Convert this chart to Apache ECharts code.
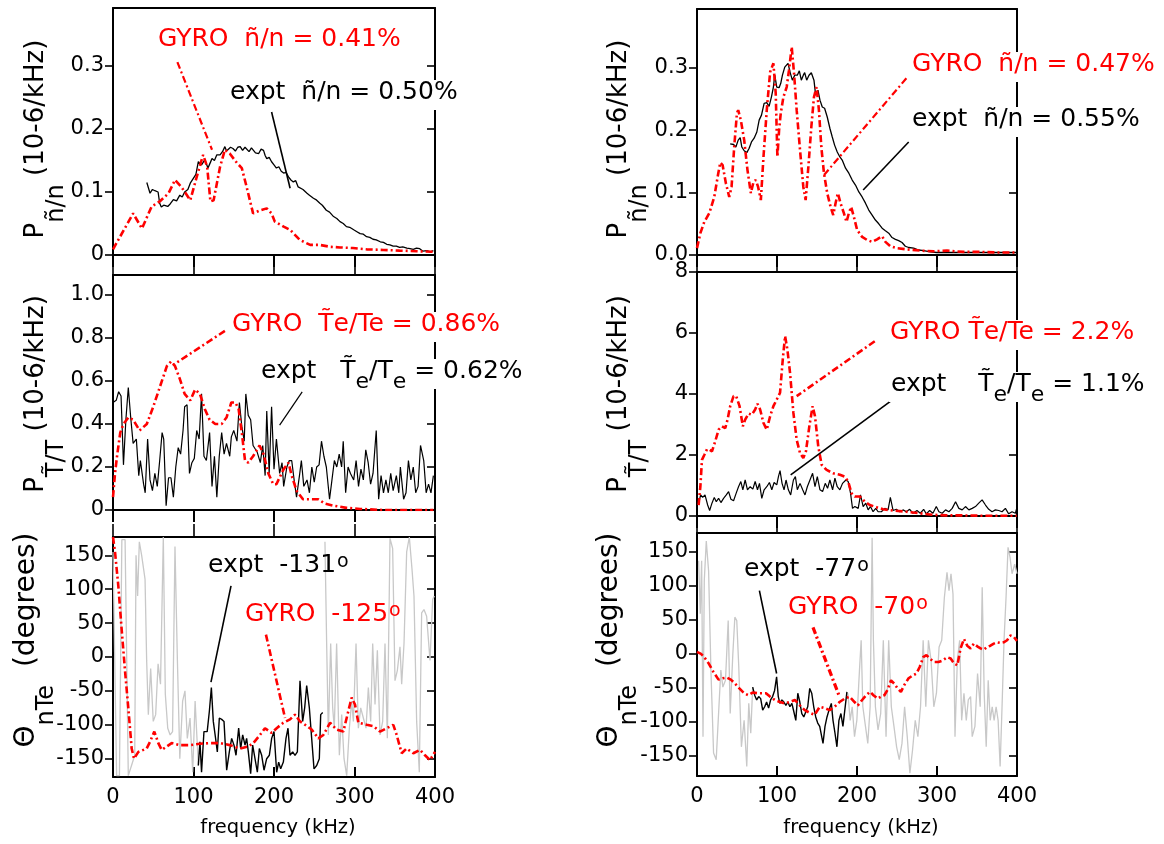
<!DOCTYPE html>
<html>
<head>
<meta charset="utf-8">
<script src="https://cdn.jsdelivr.net/npm/echarts@6/dist/echarts.min.js"></script>
<style>
  html, body { margin: 0; padding: 0; background: #fff; }
  #chart { width: 1164px; height: 844px; }
</style>
</head>
<body>
<div id="chart"></div>
<script>
// ---- data: [frequency kHz, value] ----
// top-left: density spectrum (10-6/kHz)
const tlExpt = [[42,0.115],[46,0.098],[49,0.104],[52,0.102],[56,0.100],[58,0.082],[60,0.076],[63,0.079],[65,0.081],[68,0.077],[71,0.081],[75,0.088],[79,0.086],[83,0.095],[86,0.092],[89,0.100],[93,0.104],[96,0.114],[100,0.122],[103,0.128],[106,0.148],[110,0.143],[114,0.151],[118,0.138],[121,0.147],[123,0.153],[126,0.150],[129,0.159],[133,0.159],[136,0.164],[139,0.172],[141,0.165],[143,0.167],[146,0.171],[149,0.169],[152,0.165],[155,0.171],[158,0.172],[161,0.166],[164,0.171],[166,0.169],[169,0.164],[172,0.170],[174,0.169],[177,0.162],[181,0.161],[184,0.168],[187,0.166],[189,0.158],[191,0.153],[194,0.155],[197,0.148],[200,0.143],[203,0.138],[206,0.140],[209,0.133],[212,0.130],[215,0.131],[218,0.124],[221,0.119],[224,0.116],[227,0.118],[230,0.108],[232,0.106],[236,0.104],[241,0.098],[244,0.095],[249,0.090],[252,0.088],[257,0.082],[260,0.079],[265,0.071],[269,0.068],[274,0.061],[278,0.058],[282,0.053],[286,0.050],[290,0.045],[294,0.044],[299,0.040],[303,0.037],[307,0.034],[311,0.033],[315,0.029],[319,0.028],[323,0.025],[327,0.024],[332,0.021],[336,0.020],[340,0.017],[344,0.016],[348,0.014],[352,0.014],[356,0.012],[360,0.013],[365,0.011],[369,0.010],[373,0.009],[377,0.011],[381,0.010],[385,0.006],[390,0.007],[394,0.005],[398,0.007]];
const tlGyro = [[0,0.009],[25,0.066],[36,0.042],[48,0.077],[58,0.085],[69,0.098],[77,0.119],[85,0.108],[96,0.087],[104,0.124],[112,0.159],[117,0.140],[121,0.085],[125,0.087],[133,0.140],[139,0.167],[145,0.161],[154,0.146],[160,0.138],[166,0.108],[174,0.066],[183,0.071],[191,0.074],[197,0.066],[201,0.053],[212,0.045],[220,0.040],[232,0.024],[245,0.016],[257,0.016],[270,0.013],[282,0.012],[298,0.011],[315,0.009],[336,0.008],[356,0.007],[377,0.006],[398,0.005]];

// middle-left: Te spectrum
const mlExpt = [[0,0.50],[4,0.51],[7,0.55],[10,0.53],[13,0.21],[16,0.42],[19,0.57],[22,0.43],[25,0.31],[29,0.33],[32,0.16],[34,0.23],[38,0.12],[40,0.08],[43,0.33],[46,0.14],[49,0.09],[52,0.17],[55,0.11],[58,0.23],[61,0.36],[63,0.33],[66,0.02],[69,0.15],[72,0.15],[75,0.06],[78,0.20],[81,0.29],[84,0.26],[87,0.37],[89,0.48],[92,0.49],[95,0.17],[98,0.22],[101,0.24],[104,0.37],[107,0.33],[110,0.54],[113,0.25],[116,0.23],[120,0.36],[123,0.11],[126,0.25],[129,0.06],[132,0.25],[135,0.36],[138,0.26],[141,0.31],[145,0.25],[147,0.34],[150,0.37],[154,0.32],[157,0.50],[160,0.39],[163,0.32],[165,0.54],[168,0.44],[171,0.42],[174,0.30],[176,0.30],[179,0.27],[183,0.22],[186,0.30],[189,0.16],[191,0.46],[194,0.17],[197,0.48],[200,0.19],[203,0.33],[207,0.17],[210,0.22],[212,0.11],[216,0.20],[219,0.23],[222,0.23],[225,0.14],[228,0.06],[232,0.17],[234,0.23],[237,0.11],[241,0.14],[244,0.08],[247,0.20],[250,0.13],[253,0.20],[256,0.21],[259,0.32],[262,0.25],[265,0.20],[269,0.05],[272,0.14],[275,0.23],[278,0.20],[281,0.26],[284,0.20],[286,0.32],[289,0.08],[292,0.20],[295,0.17],[299,0.14],[302,0.23],[305,0.11],[308,0.19],[311,0.14],[314,0.28],[317,0.22],[320,0.12],[323,0.17],[327,0.37],[330,0.05],[333,0.16],[336,0.08],[339,0.14],[342,0.08],[345,0.17],[348,0.09],[352,0.16],[355,0.08],[357,0.20],[361,0.05],[364,0.08],[367,0.23],[370,0.14],[373,0.20],[376,0.08],[379,0.11],[382,0.30],[386,0.23],[389,0.08],[392,0.12],[395,0.08],[398,0.16]];
const mlGyro = [[0,0.06],[2.5,0.17],[5,0.25],[9,0.36],[13,0.40],[19,0.43],[25,0.42],[33,0.37],[42,0.40],[50,0.48],[58,0.57],[67,0.67],[72,0.69],[77,0.67],[83,0.61],[89,0.54],[96,0.51],[102,0.56],[108,0.54],[114,0.47],[120,0.42],[127,0.40],[135,0.40],[141,0.43],[147,0.50],[152,0.50],[156,0.47],[160,0.36],[164,0.23],[168,0.22],[174,0.25],[182,0.30],[187,0.26],[193,0.17],[199,0.12],[203,0.12],[212,0.19],[218,0.22],[222,0.16],[228,0.09],[236,0.05],[247,0.05],[255,0.05],[263,0.03],[274,0.02],[290,0.01],[307,0.005],[336,0],[356,0],[398,0]];

// bottom-left: cross phase (degrees)
const blAll = [[0,155],[4.5,-175],[8,-175],[11,173],[15,173],[19,-175],[23,-160],[27,-145],[28.6,150],[30.6,90],[32.7,170],[35.6,150],[39.8,115],[41.8,-5],[43.9,-85],[46.8,-17],[50,-95],[53,-85],[56,-10],[59,-40],[62.5,177],[65,-55],[68,-105],[71,-115],[74,-110],[77,163],[80,-5],[83,-150],[86.5,-65],[89.4,-50],[92.3,-120],[95.7,-90],[99,-170],[102,-65],[106,-160],[110,'-'],[262,'-'],[263.3,170],[265.4,20],[267.5,-115],[270.4,20],[272.9,-75],[274.9,-105],[277.8,20],[281.2,-145],[284.1,-85],[287,-150],[290.3,-175],[293.6,-105],[296.5,-65],[298.6,-95],[301.9,20],[304.8,-105],[307.7,-75],[311,-90],[314.3,-105],[317.2,-45],[320.1,-95],[322.6,20],[325.5,-70],[328.4,10],[331.7,-115],[335,-95],[337.9,20],[340.8,-120],[344.1,175],[347.4,160],[350.3,-35],[353.2,-20],[356.5,15],[358.6,-40],[361.5,20],[364.8,155],[368.1,177],[371.4,130],[373.9,90],[377.2,-95],[380.5,-170],[383.4,65],[386.3,70],[389.6,60],[393.8,-5],[397.1,85],[399.2,90]];
const blExpt = [[106,-160],[108,-125],[110,-170],[113,-110],[117,-110],[119.7,-80],[122.2,-45],[124.6,-95],[128,-125],[129.6,-140],[132.1,-90],[135,-92],[137.9,-95],[141.2,-167],[144.5,-140],[147.4,-120],[150.3,-130],[152.8,-145],[156.1,-105],[158.6,-135],[161.1,-115],[164,-130],[166,-120],[168.1,-140],[171,-172],[173.5,-130],[176.4,-150],[179.3,-170],[181.8,-135],[184.7,-145],[187.6,-167],[190.9,-150],[194.2,-145],[197.1,-120],[200,-110],[203.3,-170],[205.8,-155],[208.3,-165],[211.6,-155],[214.9,-120],[217.4,-105],[219.9,-145],[223.2,-140],[226.1,-145],[229,-140],[232.3,-35],[235.6,-95],[238.1,-75],[240.6,-42],[243.9,-75],[246.8,-120],[249.7,-165],[253,-160],[256.3,-150],[258,-85],[260.5,-82]];
const blGyro = [[0,177],[2.5,155],[6.6,105],[10.8,40],[14.9,-20],[19,-75],[23.2,-135],[26.1,-150],[31.5,-140],[41.8,-135],[46,-125],[51.3,-110],[56.3,-127],[60.5,-137],[66.7,-132],[72.9,-127],[83.2,-130],[95.7,-130],[108,-128],[120.5,-127],[132.9,-127],[145.3,-130],[157.8,-135],[168.1,-132],[174.3,-127],[182.6,-115],[188.8,-105],[197.1,-112],[203.3,-105],[211.6,-97],[219.9,-92],[226.1,-85],[232.3,-95],[238.5,-100],[246.8,-107],[255.1,-120],[261.3,-115],[269.6,-97],[277.8,-107],[286.1,-110],[292.3,-80],[296.5,-60],[300.6,-70],[304.8,-97],[315.1,-100],[323.4,-102],[331.7,-110],[340,-105],[348.2,-100],[352.4,-115],[358.6,-142],[364.8,-135],[373.1,-142],[381.4,-137],[387.6,-145],[393.8,-152],[400,-140]];

// top-right: density spectrum
const trExpt = [[41.5,0.178],[45.7,0.177],[48.6,0.173],[51.5,0.184],[54,0.188],[56,0.173],[59,0.167],[62.3,0.164],[65.2,0.171],[68.1,0.181],[71.4,0.187],[74.8,0.197],[77.7,0.216],[80.6,0.224],[83.9,0.243],[87.2,0.244],[90.1,0.238],[93,0.253],[95.5,0.269],[97.2,0.288],[99.7,0.269],[102.6,0.268],[104.7,0.275],[106.8,0.288],[109.7,0.301],[112.1,0.304],[113.8,0.307],[116.3,0.293],[119.2,0.280],[122.1,0.288],[125.4,0.288],[127.9,0.295],[130.4,0.280],[132.9,0.288],[134.6,0.292],[137.1,0.280],[140,0.288],[142.9,0.292],[144.6,0.295],[146.2,0.280],[148.3,0.256],[151.2,0.264],[153.7,0.248],[156.6,0.237],[159.5,0.235],[162.8,0.221],[166.1,0.203],[169.1,0.189],[172,0.176],[175.3,0.165],[178.6,0.157],[181.5,0.152],[185.7,0.139],[189.8,0.131],[194,0.120],[198.1,0.112],[202.3,0.101],[206.4,0.093],[210.6,0.083],[214.7,0.072],[218.9,0.064],[223,0.056],[227.2,0.050],[231.4,0.043],[235.5,0.039],[239.7,0.035],[243.8,0.028],[248,0.025],[252.1,0.023],[256.3,0.020],[260.4,0.014],[264.6,0.012],[270.8,0.011],[277,0.008],[283.3,0.007],[291.6,0.005],[299.9,0.004],[312.4,0.004],[333.1,0.004],[353.9,0.004],[374.7,0.004],[399.6,0.004]];
const trGyro = [[0,0.011],[4.2,0.035],[9.1,0.053],[15.4,0.067],[21.6,0.093],[26.6,0.131],[29.1,0.148],[32,0.144],[36.1,0.115],[40.3,0.093],[43.2,0.109],[46.5,0.173],[49.9,0.227],[51.5,0.232],[54.8,0.216],[59,0.184],[63.1,0.136],[67.3,0.099],[70.6,0.117],[73.5,0.120],[76.4,0.109],[79.8,0.088],[83.1,0.157],[87.2,0.232],[91.4,0.293],[95.5,0.307],[98.4,0.259],[100.5,0.157],[102.6,0.200],[104.7,0.227],[108,0.253],[112.1,0.269],[115,0.296],[118.4,0.333],[121.3,0.291],[124.6,0.232],[128.8,0.168],[132.9,0.109],[135.8,0.088],[139.2,0.141],[142.9,0.205],[146.2,0.253],[149.5,0.269],[152.4,0.232],[155.4,0.173],[158.7,0.131],[162.8,0.099],[167,0.077],[170.3,0.064],[173.2,0.083],[176.1,0.099],[179.4,0.083],[183.6,0.067],[186.9,0.053],[189.8,0.067],[192.7,0.077],[196.1,0.061],[200.2,0.040],[206.4,0.029],[212.7,0.024],[218.9,0.021],[225.1,0.025],[231.4,0.030],[235.5,0.021],[241.7,0.014],[250,0.011],[262.5,0.009],[279.1,0.007],[295.7,0.006],[312.4,0.007],[333.1,0.005],[353.9,0.005],[374.7,0.004],[399.6,0.004]];

// middle-right: Te spectrum
const mrExpt = [[2,0.42],[4.6,0.69],[7.1,0.61],[10,0.69],[13.3,0.36],[15.8,0.18],[18.7,0.42],[21.6,0.61],[24.1,0.47],[27,0.58],[29.9,0.44],[33.2,0.58],[36.6,0.69],[39.5,0.80],[42.4,0.55],[45.7,0.50],[49,0.75],[51.9,0.96],[54.8,1.13],[57.3,0.86],[60.2,1.18],[63.1,0.86],[66.5,0.96],[69.8,0.88],[72.7,1.13],[75.6,0.86],[78.1,1.07],[81,0.58],[83.9,0.86],[87.2,0.96],[90.5,1.10],[93.5,0.86],[96.4,1.10],[99.7,1.02],[101.8,1.29],[103.8,1.49],[106.3,1.07],[108.8,0.86],[111.3,1.18],[114.2,0.86],[117.1,0.69],[120.5,1.18],[123,1.29],[125.4,0.86],[128.8,1.07],[132.1,0.86],[135,0.69],[137.9,0.96],[141.2,1.18],[144.5,1.40],[147.5,0.96],[150.4,1.29],[153.7,0.86],[157,0.80],[160.3,1.07],[163.2,0.91],[166.1,1.18],[169.5,0.86],[172.4,1.24],[175.3,0.96],[178.6,0.86],[181.9,1.07],[186.1,1.18],[189,1.13],[191.9,0.75],[194.4,0.25],[197.3,0.31],[201.5,0.25],[204.4,0.69],[207.7,0.31],[211,0.42],[213.9,0.20],[216.8,0.31],[220.1,0.14],[223.5,0.25],[226.4,0.14],[230.5,0.14],[234.7,0.25],[238.8,0.20],[241.7,0.61],[245.1,0.18],[249.2,0.22],[253.4,0.14],[257.5,0.20],[261.7,0.14],[265.8,0.22],[270,0.09],[275,0.18],[279.1,0.09],[283.3,0.22],[286.6,0.07],[290.8,0.18],[294.9,0.09],[299.1,0.31],[302.4,0.14],[306.5,0.09],[310.7,0.20],[314.9,0.14],[319,0.25],[323.2,0.47],[327.3,0.25],[331.5,0.20],[335.6,0.31],[339.8,0.20],[344,0.25],[348.1,0.31],[352.2,0.42],[356.4,0.53],[360.6,0.36],[364.7,0.22],[368.8,0.14],[373,0.20],[377.2,0.18],[381.3,0.14],[385.5,0.25],[389.6,0.07],[393.8,0.14],[398,0.09],[399.6,0.25]];
const mrGyro = [[2,0.36],[4.2,0.96],[6.2,1.84],[9.1,2.00],[12.5,2.19],[15.8,2.17],[18.7,2.12],[22.8,2.45],[27,2.83],[31.2,2.94],[35.3,2.88],[38.2,3.16],[41.5,3.60],[45.7,3.93],[49,3.93],[53.2,3.60],[57.3,2.94],[60.2,3.16],[64.4,3.36],[68.5,3.32],[72.7,3.49],[75.6,3.68],[78.9,3.49],[83.1,3.05],[87.2,2.83],[91.4,3.27],[95.5,3.60],[99.7,3.82],[103.8,4.04],[107.2,5.13],[110.1,5.90],[113,5.46],[116.3,4.69],[120.5,3.38],[124.6,2.50],[128.8,2.06],[132.9,1.90],[136.2,2.12],[140.4,2.94],[144.5,3.60],[147.5,3.27],[151.6,2.28],[155.8,1.68],[162,1.51],[170.3,1.40],[178.6,1.35],[184.8,1.29],[189,1.13],[193.1,0.75],[197.3,0.64],[203.5,0.64],[209.8,0.47],[216,0.36],[224.3,0.29],[232.6,0.22],[245.1,0.18],[261.7,0.14],[278.3,0.09],[294.9,0.04],[311.5,0.02],[332.3,0.02],[353.1,0.01],[373.8,0.01],[399.6,0.01]];

// bottom-right: cross phase
const brAll = [[2,137],[4.1,59],[5.8,137],[7.5,-122],[9.1,108],[11.6,166],[14.5,122],[17.4,-24],[20.7,-146],[24,-156],[27.4,-78],[29.8,-24],[32.3,-49],[35.6,-39],[39,49],[41.5,-88],[44.8,0],[47.3,54],[49.7,49],[52.2,-19],[55.5,-137],[58.9,-98],[62.2,-166],[64.7,-73],[67.2,-117],[69.6,-49],[72,'-'],[186,'-'],[188.6,-58],[191.5,-98],[194,-78],[196.9,-122],[199.8,-98],[203.1,-24],[205.2,20],[207.3,-78],[210.6,-107],[213.5,-132],[216.4,-78],[218.9,171],[220.5,20],[223,-78],[226.3,-112],[229.6,-88],[232.9,20],[236.3,-122],[239.6,20],[242.9,-78],[246.2,-107],[249.5,-137],[252.8,-156],[256.2,-132],[259.5,-78],[262.8,-122],[266.1,-176],[269.4,-142],[272.8,-98],[276.1,-122],[279.4,-78],[282.7,20],[286,-78],[289.3,20],[292.6,-10],[296,-78],[299.3,-58],[302.6,10],[305.9,20],[309.2,83],[312.5,120],[315,93],[317.5,118],[320,88],[322.5,-122],[325.4,-10],[328.3,20],[330.8,-98],[333.7,-58],[336.6,-98],[339.1,-68],[342,-63],[344,-122],[347.4,-107],[350.7,-29],[354,-78],[356.5,98],[359,-58],[361.5,-137],[364,-39],[366.5,-98],[369,-78],[371.4,-98],[373.9,-78],[376.4,-98],[378.9,-166],[381.3,-78],[383.8,20],[386.3,83],[388.8,157],[391.3,142],[393.8,118],[397.1,132],[400,118]];
const brExpt = [[69.6,-49],[72.1,-61],[74.6,-68],[77.1,-63],[79.6,-66],[82.1,-83],[84.6,-78],[87,-71],[89.5,-80],[92,-68],[94.5,-63],[97,-54],[99.5,-34],[101.6,-63],[103.6,-73],[106.1,-68],[108.6,-71],[111.1,-76],[113.6,-71],[116.1,-78],[118.6,-73],[121,-85],[123.5,-98],[126,-58],[128.5,-71],[131,-88],[133.5,-93],[135.9,-93],[138.4,-78],[140.9,-51],[143.4,-58],[145.9,-78],[148.4,-93],[150.9,-102],[153.4,-107],[155.8,-107],[157.5,-132],[160,-107],[162.5,-93],[165,-83],[167.9,-73],[170,-98],[172.5,-117],[174.9,-137],[177.4,-98],[179.9,-88],[182.4,-107],[184.9,-107],[187.4,-56]];
const brGyro = [[0,3],[5,0],[9.1,-5],[14.5,-14],[20.7,-27],[26.9,-38],[32.3,-36],[37.3,-35],[42.3,-38],[47.7,-44],[53,-51],[58.9,-58],[64.2,-61],[69.6,-57],[75.4,-58],[80.8,-58],[86.2,-58],[91.2,-63],[97.4,-68],[103.6,-71],[109.8,-73],[116.1,-71],[122.3,-68],[128.5,-76],[134.7,-83],[141,-87],[147.1,-90],[153.4,-78],[159.6,-80],[165.8,-83],[172,-78],[178.2,-71],[184.5,-66],[190.7,-63],[196.9,-71],[201,-76],[206.4,-68],[211.4,-61],[216.4,-56],[220.5,-61],[225.9,-66],[230.1,-63],[234.2,-61],[238.3,-53],[242.5,-39],[246.6,-44],[250.8,-51],[254.9,-56],[259.1,-46],[264.5,-36],[269.4,-32],[274.4,-29],[278.5,-19],[282.7,-5],[286.8,-2],[291,-7],[296.4,-12],[301.8,-12],[306.7,-10],[312.9,-5],[317.1,-7],[321.2,-14],[325.4,-17],[329.5,8],[333.7,22],[337.8,12],[342,8],[346.1,15],[350.3,11],[354.4,8],[358.5,6],[362.7,10],[366.8,12],[371,15],[375.1,17],[379.3,16],[383.4,17],[387.6,20],[391.7,27],[395.9,25],[400,19]];

// leader lines from labels to curves, [kHz, value]
const tlGyroLead = [[80,0.306],[123,0.167]];
const tlExptLead = [[197,0.227],[220,0.106]];
const mlGyroLead = [[139,0.833],[74.5,0.674]];
const mlExptLead = [[235,0.549],[207,0.395]];
const blExptLead = [[146.6,105],[121.7,-37]];
const blGyroLead = [[190,33],[213.7,-90]];
const trGyroLead = [[261.7,0.283],[158.7,0.128]];
const trExptLead = [[264.6,0.181],[207.7,0.104]];
const mrGyroLead = [[222.2,5.73],[124.6,3.93]];
const mrExptLead = [[241.7,3.76],[117.1,1.35]];
const brExptLead = [[78,93],[99.5,-29]];
const brGyroLead = [[145,39],[177.4,-61]];

const FONT = 'DejaVu Sans';
const RED = '#ff0000';
const GRAY = '#c8c8c8';
const DASHDOT = [7, 3, 2, 3];

// panel layout (pixels) and y ranges
const panels = [
  { left: 113, top: 8,   width: 322, height: 247, min: 0, max: 0.392, interval: 0.1, fmt: v => v === 0 ? '0' : v.toFixed(1), topTicks: false, bottom: false },
  { left: 113, top: 275, width: 322, height: 235, min: 0, max: 1.093, interval: 0.2, fmt: v => v === 0 ? '0' : v.toFixed(1), topTicks: true, bottom: false },
  { left: 113, top: 537, width: 322, height: 240, min: -177, max: 177, phase: true, topTicks: true, bottom: true },
  { left: 697, top: 9,   width: 320, height: 246, min: 0, max: 0.394, interval: 0.1, fmt: v => v.toFixed(1), topTicks: false, bottom: false },
  { left: 697, top: 272, width: 320, height: 244, min: 0, max: 8, interval: 2, fmt: v => String(Math.round(v)), topTicks: true, bottom: false },
  { left: 697, top: 533, width: 320, height: 243, min: -180, max: 178, phase: true, topTicks: true, bottom: true }
];

const lineBlack = { color: '#000', width: 2 };
const tickBlack = { color: '#000', width: 1.6 };

const grids = [], xAxes = [], yAxes = [];
panels.forEach((p, i) => {
  grids.push({ left: p.left, top: p.top, width: p.width, height: p.height, containLabel: false, outerBoundsMode: 'none' });
  // bottom frequency axis
  xAxes.push({
    type: 'value', gridIndex: i, position: 'bottom', min: 0, max: 400, interval: 100,
    axisLine: { onZero: false, lineStyle: lineBlack },
    axisTick: { show: true, inside: p.bottom, length: p.bottom ? 10 : 12, lineStyle: lineBlack },
    axisLabel: { show: p.bottom, margin: 10, color: '#000', fontFamily: FONT, fontSize: 21 },
    splitLine: { show: false }
  });
  // top border
  xAxes.push({
    type: 'value', gridIndex: i, position: 'top', min: 0, max: 400, interval: 100,
    axisLine: { onZero: false, lineStyle: lineBlack },
    axisTick: { show: p.topTicks, inside: false, length: 13, lineStyle: tickBlack },
    axisLabel: { show: false }, splitLine: { show: false }
  });
  const yBase = p.phase
    ? { min: p.min, max: p.max, splitNumber: 7 }
    : { min: p.min, max: p.max, interval: p.interval };
  yAxes.push({
    type: 'value', gridIndex: i, position: 'left', ...yBase,
    axisLine: { onZero: false, lineStyle: lineBlack },
    axisTick: { show: true, inside: false, length: 8, lineStyle: tickBlack },
    axisLabel: {
      color: '#000', fontFamily: FONT, fontSize: 21, margin: 9,
      showMinLabel: !p.phase, showMaxLabel: p.max === 8,
      formatter: p.phase ? (v => String(Math.round(v))) : p.fmt
    },
    splitLine: { show: false }
  });
  yAxes.push({
    type: 'value', gridIndex: i, position: 'right', ...yBase,
    axisLine: { onZero: false, lineStyle: lineBlack },
    axisTick: { show: true, inside: true, length: 8, lineStyle: tickBlack },
    axisLabel: { show: false }, splitLine: { show: false }
  });
});

function curve(i, data, color, width, type, z) {
  return {
    type: 'line', xAxisIndex: i * 2, yAxisIndex: i * 2, data: data,
    symbol: 'none', showSymbol: false, silent: true, clip: true, z: z,
    connectNulls: false,
    lineStyle: { color: color, width: width, type: type }
  };
}

const series = [
  curve(0, tlExpt, '#000', 1.3, 'solid', 3),
  curve(0, tlGyro, RED, 2.6, DASHDOT, 4),
  curve(0, tlGyroLead, RED, 2.2, DASHDOT, 4),
  curve(0, tlExptLead, '#000', 1.6, 'solid', 4),

  curve(1, mlExpt, '#000', 1.2, 'solid', 3),
  curve(1, mlGyro, RED, 2.6, DASHDOT, 4),
  curve(1, mlGyroLead, RED, 2.6, DASHDOT, 4),
  curve(1, mlExptLead, '#000', 1.2, 'solid', 4),

  curve(2, blAll, GRAY, 1.3, 'solid', 2),
  curve(2, blExpt, '#000', 1.4, 'solid', 3),
  curve(2, blGyro, RED, 2.6, DASHDOT, 4),
  curve(2, blExptLead, '#000', 1.6, 'solid', 4),
  curve(2, blGyroLead, RED, 2.6, DASHDOT, 4),

  curve(3, trExpt, '#000', 1.3, 'solid', 3),
  curve(3, trGyro, RED, 2.6, DASHDOT, 4),
  curve(3, trGyroLead, RED, 2.2, DASHDOT, 4),
  curve(3, trExptLead, '#000', 1.6, 'solid', 4),

  curve(4, mrExpt, '#000', 1.2, 'solid', 3),
  curve(4, mrGyro, RED, 2.6, DASHDOT, 4),
  curve(4, mrGyroLead, RED, 2.6, DASHDOT, 4),
  curve(4, mrExptLead, '#000', 1.6, 'solid', 4),

  curve(5, brAll, GRAY, 1.3, 'solid', 2),
  curve(5, brExpt, '#000', 1.4, 'solid', 3),
  curve(5, brGyro, RED, 2.6, DASHDOT, 4),
  curve(5, brExptLead, '#000', 1.6, 'solid', 4),
  curve(5, brGyroLead, RED, 3.2, DASHDOT, 4)
];

// rich styles for annotation texts
const annRich = {
  m: { fontFamily: FONT, fontSize: 25, lineHeight: 30, verticalAlign: 'top' },
  e: { fontFamily: FONT, fontSize: 22, lineHeight: 22, verticalAlign: 'top', padding: [12, 0, 0, 0] },
  o: { fontFamily: FONT, fontSize: 19, lineHeight: 19, verticalAlign: 'top', padding: [0, 0, 0, 1] }
};
function note(x, y, text, color, bg) {
  return {
    type: 'text', x: x, y: y, z: 100, silent: true,
    style: {
      text: text, fill: color, fontFamily: FONT, fontSize: 25,
      align: 'left', verticalAlign: 'middle', textAlign: 'left', textVerticalAlign: 'middle',
      rich: annRich, backgroundColor: bg ? '#fff' : null, padding: bg ? [0, 2, 0, 2] : 0
    }
  };
}
function yTitle(x, y, text, size) {
  return {
    type: 'text', x: x, y: y, rotation: Math.PI / 2, z: 100, silent: true,
    style: {
      text: text, fill: '#000', fontFamily: FONT, fontSize: size,
      align: 'center', verticalAlign: 'middle', textAlign: 'center', textVerticalAlign: 'middle',
      rich: {
        a: { fontFamily: FONT, fontSize: size, lineHeight: 34, verticalAlign: 'top' },
        s: { fontFamily: FONT, fontSize: 24, lineHeight: 24, verticalAlign: 'top', padding: [22, 0, 0, 0] }
      }
    }
  };
}
function xTitle(x, y) {
  return {
    type: 'text', x: x, y: y, z: 100, silent: true,
    style: {
      text: 'frequency (kHz)', fill: '#000', fontFamily: FONT, fontSize: 19.5,
      align: 'center', verticalAlign: 'middle', textAlign: 'center', textVerticalAlign: 'middle'
    }
  };
}

const T = 'T\u0303';
const graphics = [
  yTitle(40, 139, '{a|P}{s|ñ/n}{a| (10-6/kHz)}', 26),
  yTitle(40, 394, '{a|P}{s|' + T + '/T}{a| (10-6/kHz)}', 26),
  yTitle(30, 640, '{a|Θ}{s|nTe}{a|  (degrees)}', 28),
  yTitle(623, 139, '{a|P}{s|ñ/n}{a| (10-6/kHz)}', 26),
  yTitle(623, 394, '{a|P}{s|' + T + '/T}{a| (10-6/kHz)}', 26),
  yTitle(613, 640, '{a|Θ}{s|nTe}{a|  (degrees)}', 28),
  xTitle(278, 828),
  xTitle(861, 828),

  note(158, 42, '{m|GYRO  ñ/n = 0.41%}', RED, false),
  note(228, 95, '{m|expt  ñ/n = 0.50%}', '#000', true),
  note(230, 327, '{m|GYRO  ' + T + 'e/Te = 0.86%}', RED, true),
  note(259, 374, '{m|expt   ' + T + '}{e|e}{m|/T}{e|e}{m| = 0.62%}', '#000', true),
  note(208, 568, '{m|expt  -131}{o|o}', '#000', false),
  note(245, 617, '{m|GYRO  -125}{o|o}', RED, false),

  note(910, 67, '{m|GYRO  ñ/n = 0.47%}', RED, true),
  note(910, 122, '{m|expt  ñ/n = 0.55%}', '#000', true),
  note(888, 335, '{m|GYRO ' + T + 'e/Te = 2.2%}', RED, true),
  note(889, 387, '{m|expt    ' + T + '}{e|e}{m|/T}{e|e}{m| = 1.1%}', '#000', true),
  note(744, 572, '{m|expt  -77}{o|o}', '#000', false),
  note(788, 610, '{m|GYRO  -70}{o|o}', RED, false)
];

const chart = echarts.init(document.getElementById('chart'), null, { renderer: 'canvas' });
chart.setOption({
  backgroundColor: '#fff',
  animation: false,
  textStyle: { fontFamily: FONT },
  grid: grids,
  xAxis: xAxes,
  yAxis: yAxes,
  series: series,
  graphic: graphics
});
</script>
</body>
</html>
